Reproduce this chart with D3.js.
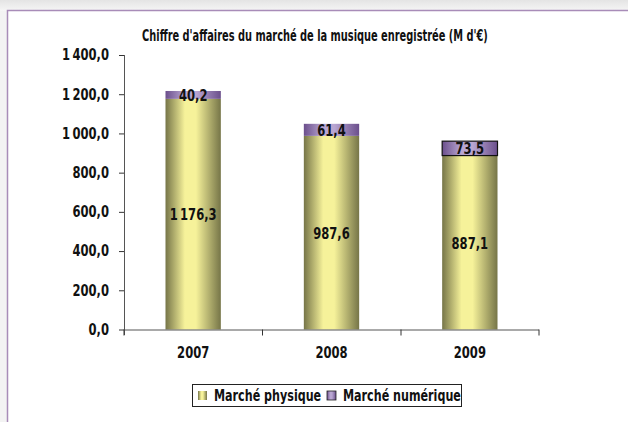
<!DOCTYPE html>
<html>
<head>
<meta charset="utf-8">
<script src="https://cdn.jsdelivr.net/npm/d3@7"></script>
<style>
  body { margin: 0; background: #fff; }
  svg { display: block; }
  text { font-family: "DejaVu Sans", sans-serif; font-weight: bold; fill: #111; }
</style>
</head>
<body>
<svg id="chart" width="628" height="422"></svg>
<script>
var years = ["2007", "2008", "2009"]
var physique = [1176.3, 987.6, 887.1]
var numerique = [40.2, 61.4, 73.5]
var seriesNames = ["Marché physique", "Marché numérique"]
var yTicks = [0, 200, 400, 600, 800, 1000, 1200, 1400]

var svg = d3.select("#chart")
var defs = svg.append("defs")

// narrow the text horizontally (the original uses a condensed face)
function condense(sel, k) {
    sel.each(function() {
        var t = d3.select(this)
        var x0 = +t.attr("x") || 0
        t.attr("x", x0 / k).attr("transform", "scale(" + k + ",1)")
    })
}
// factor that brings the widest text of a selection to a given width
function fitK(sel, w) {
    var m = d3.max(sel.nodes(), function(n) { return n.getComputedTextLength() })
    return w / m
}

// page shadow + frame
var bg = defs.append("linearGradient").attr("id", "bgGrad").attr("x1", 0).attr("y1", 0).attr("x2", 0).attr("y2", 1)
bg.append("stop").attr("offset", "0").attr("stop-color", "#e4e4e4")
bg.append("stop").attr("offset", "1").attr("stop-color", "#f6f6f6")
svg.append("rect").attr("width", 628).attr("height", 422).attr("fill", "#f3f3f3")
svg.append("rect").attr("width", 628).attr("height", 11).attr("fill", "url(#bgGrad)")
svg.append("rect").attr("x", 7.5).attr("y", 10.5).attr("width", 640).attr("height", 430)
    .attr("fill", "#fff").attr("stroke", "#a88cb8").attr("stroke-width", 1.5)

function cyl(id, dark, light) {
    var g = defs.append("linearGradient").attr("id", id).attr("x1", 0).attr("x2", 1).attr("y1", 0).attr("y2", 0)
    g.append("stop").attr("offset", "0").attr("stop-color", dark)
    g.append("stop").attr("offset", "0.35").attr("stop-color", light)
    g.append("stop").attr("offset", "0.55").attr("stop-color", light)
    g.append("stop").attr("offset", "1").attr("stop-color", dark)
}
cyl("gPhys", "#767548", "#f6f29a")
cyl("gNum", "#6b4f8c", "#b9a6d2")

var x = d3.scaleBand().domain(years).range([124, 539]).paddingInner(0.6).paddingOuter(0.3)
var y = d3.scaleLinear().domain([0, 1400]).range([329.5, 55])
var fmt = function(v) {
    return d3.format(",.1f")(v).replace(",", "\u202f").replace(".", ",")
}

// bars
var g = svg.append("g")
years.forEach(function(yr, i) {
    var cx = x(yr) + x.bandwidth() / 2
    g.append("rect").attr("x", x(yr)).attr("width", x.bandwidth())
        .attr("y", y(physique[i])).attr("height", y(0) - y(physique[i]))
        .attr("fill", "url(#gPhys)")
    g.append("rect").attr("x", x(yr)).attr("width", x.bandwidth())
        .attr("y", y(physique[i] + numerique[i])).attr("height", y(physique[i]) - y(physique[i] + numerique[i]))
        .attr("fill", "url(#gNum)")
        .attr("stroke", i == 2 ? "#111" : "none").attr("stroke-width", 1.2)
    g.append("text").attr("class", "lbl").attr("x", cx).attr("y", y(physique[i] / 2) + 6)
        .attr("text-anchor", "middle").attr("font-size", 16).text(fmt(physique[i]))
    g.append("text").attr("class", "lbl").attr("x", cx).attr("y", y(physique[i] + numerique[i] / 2) + 6)
        .attr("text-anchor", "middle").attr("font-size", 16).text(fmt(numerique[i]))
})
var lbls = g.selectAll(".lbl")
condense(lbls, fitK(lbls, 47))

// axes
var yAxis = svg.append("g").attr("transform", "translate(124,0)")
    .call(d3.axisLeft(y).tickValues(yTicks).tickSize(5).tickPadding(10).tickFormat(fmt))
var xAxis = svg.append("g").attr("transform", "translate(0,329.5)")
    .call(d3.axisBottom(x).tickSize(0).tickPadding(18))
var xBounds = [124, 262.5, 401, 539]
xAxis.selectAll(".bnd").data(xBounds).enter().append("line")
    .attr("x1", function(d) { return d }).attr("x2", function(d) { return d })
    .attr("y1", 0).attr("y2", 6).attr("stroke", "#333")
svg.selectAll(".domain").attr("stroke", "#555")
xAxis.select(".domain").attr("d", "M124,0.5H539")
yAxis.select(".domain").attr("d", "M0.5,55H0.5V335")
svg.selectAll(".tick line").attr("stroke", "#333")
svg.selectAll(".tick text").attr("font-size", 15).attr("font-family", null).attr("font-weight", null)
var kTick = fitK(yAxis.selectAll(".tick text"), 47)
condense(svg.selectAll(".tick text"), kTick)

// title
var title = svg.append("text").attr("x", 315).attr("y", 41).attr("text-anchor", "middle")
    .attr("font-size", 15.5)
    .text("Chiffre d'affaires du marché de la musique enregistrée (M d'€)")
condense(title, fitK(title, 346))

// legend
var lg = svg.append("g")
lg.append("rect").attr("x", 192.5).attr("y", 384.5).attr("width", 269).attr("height", 22)
    .attr("fill", "#fff").attr("stroke", "#222")
var fills = ["url(#gPhys)", "url(#gNum)"]
var lx = [198, 327]
seriesNames.forEach(function(s, i) {
    lg.append("rect").attr("x", lx[i]).attr("y", 391).attr("width", 9).attr("height", 9)
        .attr("fill", fills[i]).attr("stroke", i == 1 ? "#222" : "none").attr("stroke-width", 0.8)
    lg.append("text").attr("class", "leg").attr("x", lx[i] + 16).attr("y", 401.5).attr("font-size", 16).text(s)
})
var legs = lg.selectAll(".leg")
condense(legs, fitK(legs, 118))
</script>
</body>
</html>
